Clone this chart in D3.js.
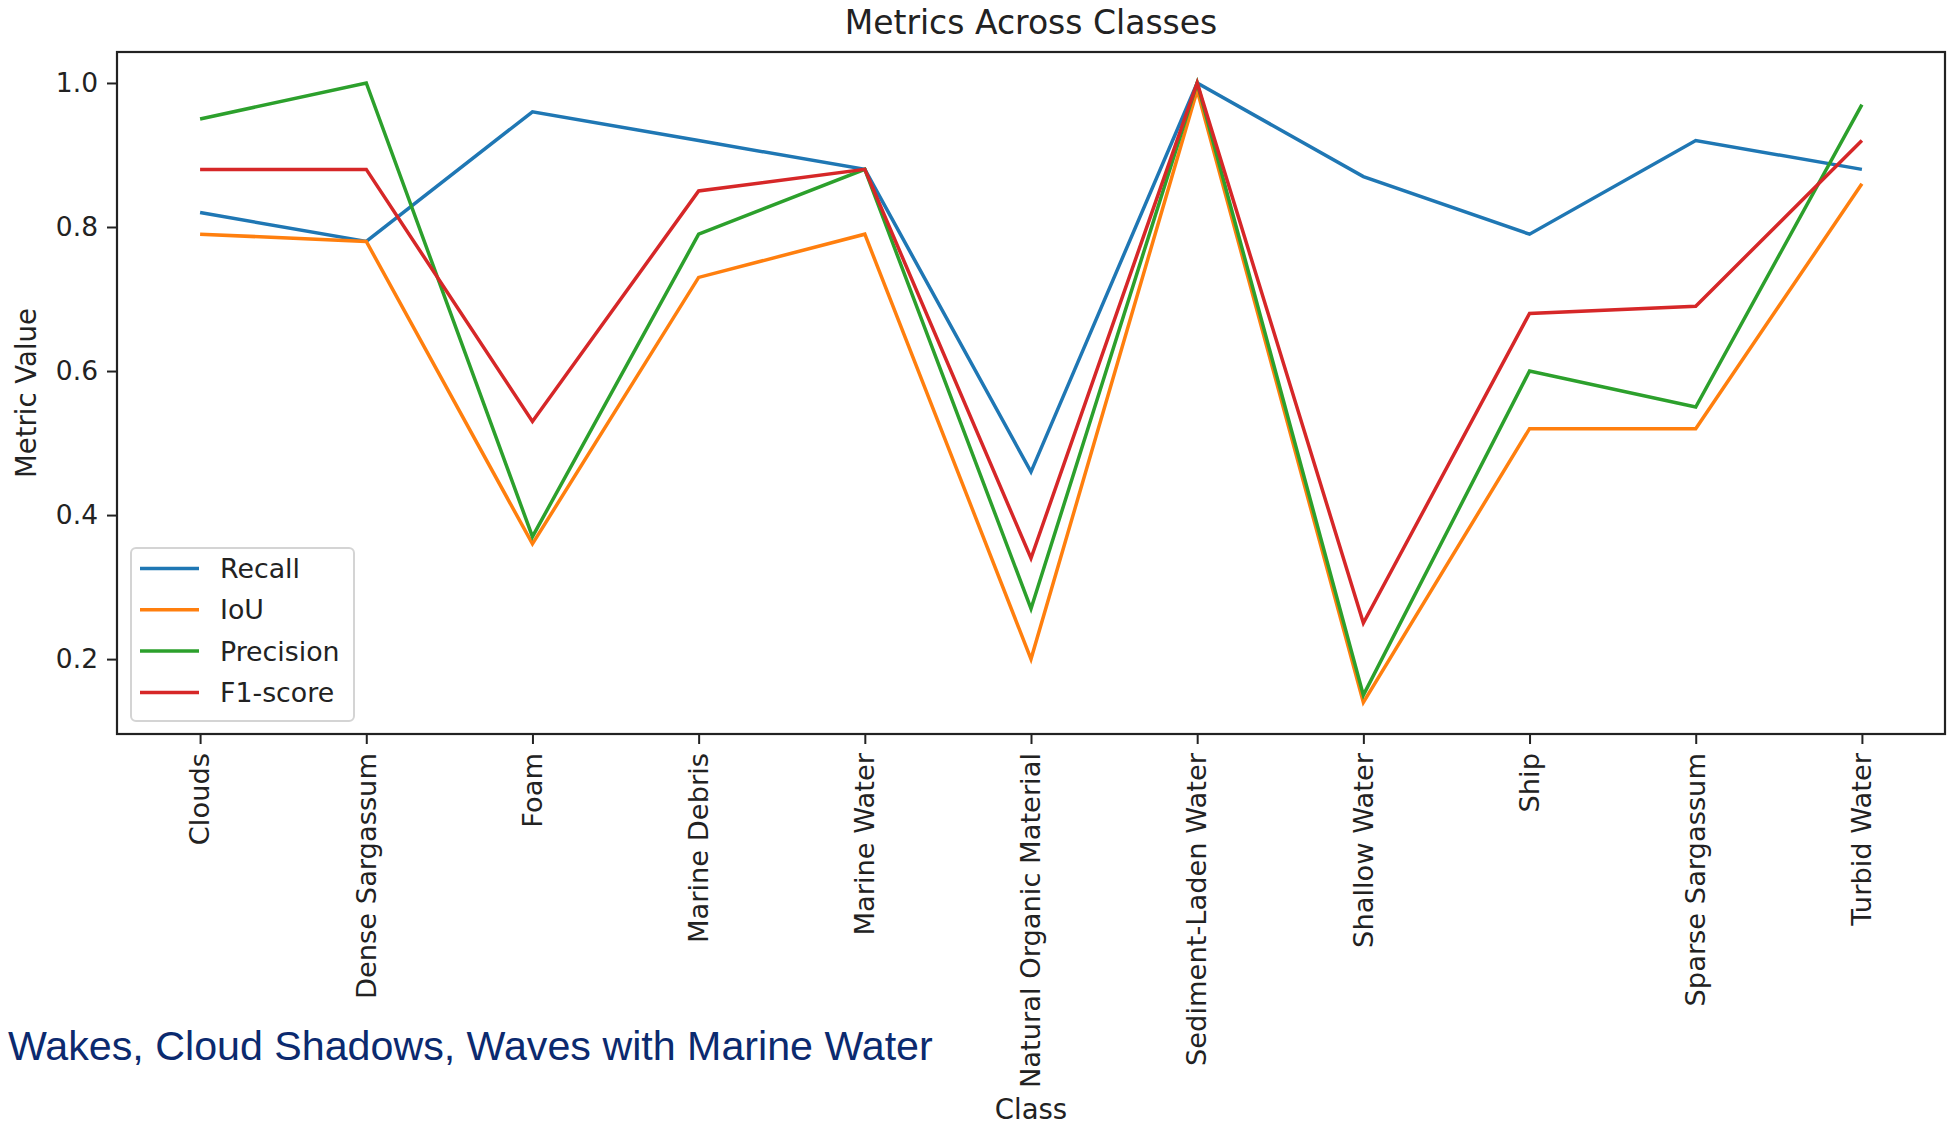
<!DOCTYPE html>
<html>
<head>
<meta charset="utf-8">
<script src="https://cdn.jsdelivr.net/npm/d3@7"></script>
<style>
  body { margin: 0; background: #fff; }
  text { font-family: "DejaVu Sans", sans-serif; fill: #222; }
</style>
</head>
<body>
<div id="chart"></div>
<script>
// classes on the x axis
const classes = ["Clouds", "Dense Sargassum", "Foam", "Marine Debris", "Marine Water",
  "Natural Organic Material", "Sediment-Laden Water", "Shallow Water", "Ship",
  "Sparse Sargassum", "Turbid Water"];

const seriesNames = ["Recall", "IoU", "Precision", "F1-score"];
const recall    = [0.82, 0.78, 0.96, 0.92, 0.88, 0.46, 1.00, 0.87, 0.79, 0.92, 0.88];
const iou       = [0.79, 0.78, 0.36, 0.73, 0.79, 0.20, 0.99, 0.14, 0.52, 0.52, 0.86];
const precision = [0.95, 1.00, 0.37, 0.79, 0.88, 0.27, 1.00, 0.15, 0.60, 0.55, 0.97];
const f1        = [0.88, 0.88, 0.53, 0.85, 0.88, 0.34, 1.00, 0.25, 0.68, 0.69, 0.92];

const yTicks = [0.2, 0.4, 0.6, 0.8, 1.0];
const colors = ["#1f77b4", "#ff7f0e", "#2ca02c", "#d62728"];
const note = "Wakes, Cloud Shadows, Waves with Marine Water";

const W = 1948, H = 1125;
const margin = { top: 52, right: 3, bottom: 391, left: 117 };
const width = W - margin.left - margin.right;
const height = H - margin.top - margin.bottom;

const svg = d3.select("#chart").append("svg")
  .attr("width", W)
  .attr("height", H)
  .style("background", "#fff");

const g = svg.append("g")
  .attr("transform", `translate(${margin.left},${margin.top})`);

let x = d3.scalePoint()
  .domain(classes)
  .range([0, width])
  .padding(0.5);

let y = d3.scaleLinear()
  .domain([0.096, 1.043])
  .range([height, 0]);

// x axis with rotated labels
const xAxis = g.append("g")
  .attr("transform", `translate(0,${height})`)
  .call(d3.axisBottom(x).tickSize(10).tickPadding(9));
xAxis.select(".domain").remove();
xAxis.selectAll("line").attr("stroke", "#222").attr("stroke-width", 2);
xAxis.selectAll("text")
  .attr("transform", "rotate(-90)")
  .attr("x", -19)
  .attr("y", 0)
  .attr("dy", "0.32em")
  .style("text-anchor", "end")
  .style("font-size", "27.3px")
  .style("font-family", "DejaVu Sans")
  .attr("fill", "#222");

// y axis
const yAxis = g.append("g")
  .call(d3.axisLeft(y).tickValues(yTicks).tickFormat(d3.format(".1f")).tickSize(10).tickPadding(9));
yAxis.select(".domain").remove();
yAxis.selectAll("line").attr("stroke", "#222").attr("stroke-width", 2);
yAxis.selectAll("text")
  .style("font-size", "26.5px")
  .style("font-family", "DejaVu Sans")
  .attr("fill", "#222");

// lines
const all = [recall, iou, precision, f1];
const line = d3.line()
  .x((d, i) => x(classes[i]))
  .y(d => y(d));

g.selectAll(".series")
  .data(all)
  .enter()
  .append("path")
  .attr("class", "series")
  .attr("d", d => line(d))
  .attr("fill", "none")
  .attr("stroke", (d, i) => colors[i])
  .attr("stroke-width", 3.5)
  .attr("stroke-linejoin", "miter");

// frame
g.append("rect")
  .attr("width", width)
  .attr("height", height)
  .attr("fill", "none")
  .attr("stroke", "#222")
  .attr("stroke-width", 2.2);

// legend
const legend = g.append("g")
  .attr("transform", "translate(14,496)");
legend.append("rect")
  .attr("width", 223)
  .attr("height", 173)
  .attr("rx", 5)
  .attr("fill", "#fff")
  .attr("fill-opacity", 0.8)
  .attr("stroke", "#d4d4d4")
  .attr("stroke-width", 2);
seriesNames.forEach((name, i) => {
  const row = legend.append("g").attr("transform", `translate(0,${20.5 + i * 41.3})`);
  row.append("line")
    .attr("x1", 9).attr("x2", 68)
    .attr("stroke", colors[i])
    .attr("stroke-width", 3.5);
  row.append("text")
    .attr("x", 89)
    .attr("dy", "0.36em")
    .style("font-size", "26.8px")
    .text(name);
});

// title and axis labels
svg.append("text")
  .attr("x", margin.left + width / 2)
  .attr("y", 34)
  .attr("text-anchor", "middle")
  .style("font-size", "33px")
  .text("Metrics Across Classes");

svg.append("text")
  .attr("transform", `translate(36,${margin.top + height / 2}) rotate(-90)`)
  .attr("text-anchor", "middle")
  .style("font-size", "27.5px")
  .text("Metric Value");

svg.append("text")
  .attr("x", margin.left + width / 2)
  .attr("y", 1119)
  .attr("text-anchor", "middle")
  .style("font-size", "27.5px")
  .text("Class");

// blue note under the chart
svg.append("text")
  .attr("x", 8)
  .attr("y", 1060)
  .style("font-family", "'Liberation Sans', Arial, sans-serif")
  .style("font-size", "41.2px")
  .style("fill", "#0b2a6f")
  .text(note);
</script>
</body>
</html>
